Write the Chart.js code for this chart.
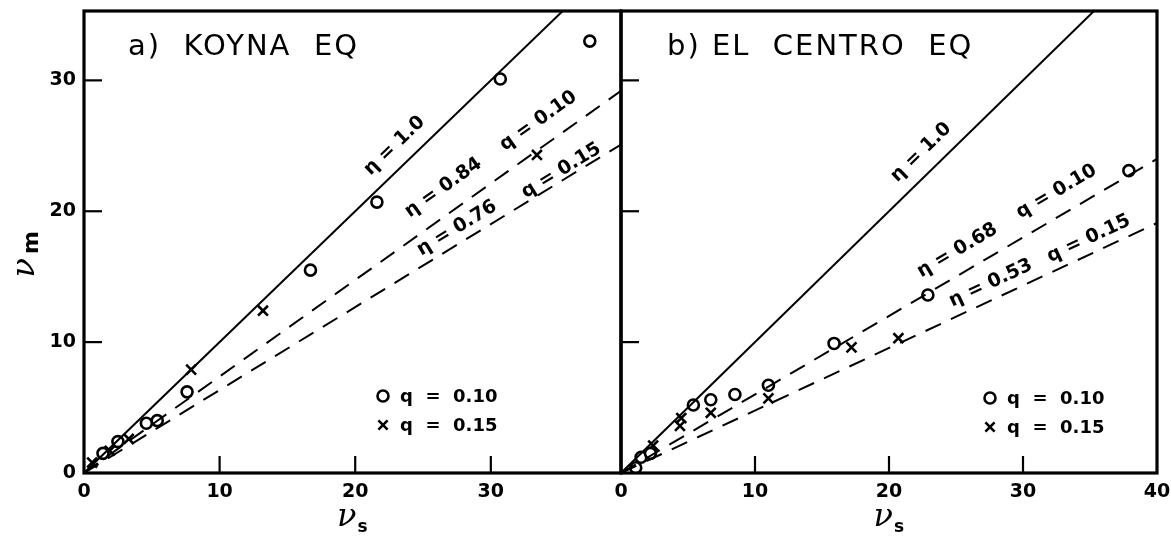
<!DOCTYPE html>
<html>
<head>
<meta charset="utf-8">
<script src="https://cdn.jsdelivr.net/npm/chart.js@4"></script>
<style>
  html, body { margin: 0; padding: 0; background: #fff; }
  #wrap { position: relative; width: 1171px; height: 541px; background: #fff; }
  .panel { position: absolute; top: 0; height: 541px; }
  #panelA { left: 0; width: 640px; }
  #panelB { left: 600px; width: 571px; }
</style>
</head>
<body>
<div id="wrap">
  <div class="panel" id="panelA"><canvas id="koyna"></canvas></div>
  <div class="panel" id="panelB"><canvas id="centro"></canvas></div>
</div>
<script>
"use strict";

// ---- data ----
// a) Koyna EQ
const koynaCircleX = [1.4, 2.5, 4.6, 5.4, 7.6, 16.7, 21.6, 30.7, 37.3];
const koynaCircleY = [1.5, 2.4, 3.8, 4.0, 6.2, 15.5, 20.7, 30.1, 33.0];
const koynaCrossX = [0.6, 1.9, 3.3, 7.9, 13.2, 33.4];
const koynaCrossY = [0.8, 1.7, 2.6, 7.9, 12.4, 24.3];
const koynaLineX = [0, 39.6];
const koynaEta10Y = [0, 39.6];
const koynaEta84Y = [0, 29.2];
const koynaEta76Y = [0, 25.1];

// b) El Centro EQ
const centroCircleX = [1.1, 1.5, 2.2, 5.4, 6.7, 8.5, 11.0, 15.9, 22.9, 37.9];
const centroCircleY = [0.4, 1.2, 1.5, 5.2, 5.6, 6.0, 6.7, 9.9, 13.6, 23.1];
const centroCrossX = [2.4, 4.5, 4.4, 6.7, 11.0, 17.2, 20.7];
const centroCrossY = [2.1, 4.2, 3.6, 4.6, 5.7, 9.6, 10.3];
const centroLineX = [0, 40];
const centroEta10Y = [0, 40];
const centroEta68Y = [0, 24.0];
const centroEta53Y = [0, 19.1];

// ticks
const koynaXTicks = [0, 10, 20, 30];
const centroXTicks = [0, 10, 20, 30, 40];
const yTicks = [0, 10, 20, 30];

const FONT = "'DejaVu Sans', sans-serif";

function pts(xs, ys) {
    return xs.map((v, i) => ({ x: v, y: ys[i] }));
}

function fitLine(xs, ys, dashed) {
    return {
        type: 'line',
        data: pts(xs, ys),
        borderColor: '#000',
        borderWidth: 2,
        borderDash: dashed ? [17, 11] : [],
        pointRadius: 0,
        fill: false,
        tension: 0
    };
}

function circles(xs, ys) {
    return {
        type: 'scatter',
        data: pts(xs, ys),
        pointStyle: 'circle',
        pointRadius: 5.5,
        pointBorderWidth: 2.6,
        pointBorderColor: '#000',
        pointBackgroundColor: '#fff'
    };
}

function crosses(xs, ys) {
    return {
        type: 'scatter',
        data: pts(xs, ys),
        pointStyle: 'crossRot',
        pointRadius: 7,
        pointBorderWidth: 2.6,
        pointBorderColor: '#000'
    };
}

function noPad(s) {
    s.paddingTop = 0; s.paddingBottom = 0;
    s.paddingLeft = 0; s.paddingRight = 0;
}

// frame, inward ticks, titles, line labels, legend
const panelDecor = {
    id: 'panelDecor',
    afterDraw(chart, args, o) {
        const { ctx, chartArea: a, scales: { x, y } } = chart;
        ctx.save();
        ctx.strokeStyle = '#000';
        ctx.fillStyle = '#000';

        // ticks pointing into the plot
        ctx.lineWidth = 2.2;
        o.innerX.forEach(v => {
            const px = x.getPixelForValue(v);
            ctx.beginPath(); ctx.moveTo(px, a.bottom); ctx.lineTo(px, a.bottom - 17); ctx.stroke();
        });
        o.innerY.forEach(v => {
            const py = y.getPixelForValue(v);
            ctx.beginPath(); ctx.moveTo(a.left, py); ctx.lineTo(a.left + 18, py); ctx.stroke();
        });

        // box
        ctx.lineWidth = 3.2;
        ctx.strokeRect(a.left, a.top, a.right - a.left, a.bottom - a.top);

        // panel title
        ctx.font = '29px ' + FONT;
        ctx.letterSpacing = '2px';
        ctx.textBaseline = 'middle';
        ctx.textAlign = 'left';
        ctx.fillText(o.title, a.left + o.titleDx, 47);
        ctx.letterSpacing = '0px';

        // labels along the fit lines
        ctx.font = 'bold 19px ' + FONT;
        ctx.textAlign = 'center';
        o.lineLabels.forEach(l => {
            const line = chart.data.datasets[l.line].data;
            const p0 = line[0], p1 = line[line.length - 1];
            const ang = Math.atan2(y.getPixelForValue(p1.y) - y.getPixelForValue(p0.y),
                                   x.getPixelForValue(p1.x) - x.getPixelForValue(p0.x));
            ctx.save();
            ctx.translate(x.getPixelForValue(l.x), y.getPixelForValue(l.y));
            ctx.rotate(ang);
            ctx.fillText(l.text, 0, 0);
            ctx.restore();
        });

        // legend inside the plot
        ctx.font = 'bold 18px ' + FONT;
        ctx.textAlign = 'left';
        o.legend.forEach((g, i) => {
            const lx = a.left + o.legendX, ly = a.top + o.legendY + i * 29;
            ctx.save();
            ctx.fillStyle = '#fff';
            ctx.lineWidth = 2.6;
            Chart.helpers.drawPoint(ctx, { pointStyle: g.style, radius: g.style === 'circle' ? 5.5 : 6.5, borderWidth: 2.6 }, lx, ly);
            ctx.restore();
            ctx.fillText(g.text, lx + 17, ly + 1);
        });

        // axis titles
        const cx = (a.left + a.right) / 2;
        ctx.font = 'italic 32px "DejaVu Serif", serif';
        ctx.textAlign = 'right';
        ctx.fillText('\u03BD', cx + 4, 518);
        ctx.font = 'bold 17px ' + FONT;
        ctx.textAlign = 'left';
        ctx.fillText('s', cx + 5, 528);
        if (o.yTitle) {
            ctx.save();
            ctx.translate(26, 262);
            ctx.rotate(-Math.PI / 2);
            ctx.font = 'italic 32px "DejaVu Serif", serif';
            ctx.textAlign = 'right';
            ctx.fillText('\u03BD', 4, 0);
            ctx.font = 'bold 22px ' + FONT;
            ctx.textAlign = 'left';
            ctx.fillText('m', 8, 6);
            ctx.restore();
        }
        ctx.restore();
    }
};

function makePanel(id, cfg) {
    return new Chart(document.getElementById(id), {
        data: { datasets: cfg.datasets },
        options: {
            responsive: true,
            maintainAspectRatio: false,
            animation: false,
            events: [],
            layout: { padding: cfg.padding },
            plugins: {
                legend: { display: false },
                tooltip: { enabled: false },
                panelDecor: cfg.decor
            },
            scales: {
                x: {
                    type: 'linear', min: 0, max: cfg.xMax,
                    afterBuildTicks: s => { s.ticks = cfg.xTicks.map(v => ({ value: v })); },
                    afterFit: s => { s.height = 68; noPad(s); },
                    grid: { display: false, drawTicks: false },
                    border: { display: false },
                    ticks: { color: '#000', padding: 8, maxRotation: 0, font: { family: FONT, size: 19, weight: 'bold' } }
                },
                y: {
                    type: 'linear', min: 0, max: 35.3,
                    afterBuildTicks: s => { s.ticks = cfg.yTicks.map(v => ({ value: v })); },
                    afterFit: s => { s.width = cfg.yWidth; noPad(s); },
                    grid: { display: false, drawTicks: false },
                    border: { display: false },
                    ticks: { display: cfg.yLabels, color: '#000', padding: 8, font: { family: FONT, size: 19, weight: 'bold' } }
                }
            }
        },
        plugins: [panelDecor]
    });
}

makePanel('koyna', {
    xMax: 39.6,
    xTicks: koynaXTicks,
    yTicks: yTicks,
    yWidth: 84,
    yLabels: true,
    padding: { top: 11, right: 19, bottom: 0, left: 0 },
    datasets: [
        fitLine(koynaLineX, koynaEta10Y, false),
        fitLine(koynaLineX, koynaEta84Y, true),
        fitLine(koynaLineX, koynaEta76Y, true),
        circles(koynaCircleX, koynaCircleY),
        crosses(koynaCrossX, koynaCrossY)
    ],
    decor: {
        title: 'a)  KOYNA  EQ',
        titleDx: 44,
        yTitle: true,
        innerX: [10, 20, 30],
        innerY: [10, 20, 30],
        legendX: 299, legendY: 385,
        legend: [
            { style: 'circle', text: 'q  =  0.10' },
            { style: 'crossRot', text: 'q  =  0.15' }
        ],
        lineLabels: [
            { line: 0, text: '\u03B7 = 1.0', x: 22.9, y: 25.0 },
            { line: 1, text: '\u03B7 = 0.84', x: 26.5, y: 21.8 },
            { line: 1, text: 'q = 0.10', x: 33.5, y: 26.9 },
            { line: 2, text: '\u03B7 = 0.76', x: 27.5, y: 18.7 },
            { line: 2, text: 'q = 0.15', x: 35.2, y: 23.1 }
        ]
    }
});

makePanel('centro', {
    xMax: 40,
    xTicks: centroXTicks,
    yTicks: [],
    yWidth: 21,
    yLabels: false,
    padding: { top: 11, right: 14, bottom: 0, left: 0 },
    datasets: [
        fitLine(centroLineX, centroEta10Y, false),
        fitLine(centroLineX, centroEta68Y, true),
        fitLine(centroLineX, centroEta53Y, true),
        circles(centroCircleX, centroCircleY),
        crosses(centroCrossX, centroCrossY)
    ],
    decor: {
        title: 'b) EL  CENTRO  EQ',
        titleDx: 46,
        yTitle: false,
        innerX: [10, 20, 30],
        innerY: [10, 20, 30],
        legendX: 369, legendY: 387,
        legend: [
            { style: 'circle', text: 'q  =  0.10' },
            { style: 'crossRot', text: 'q  =  0.15' }
        ],
        lineLabels: [
            { line: 0, text: '\u03B7 = 1.0', x: 22.4, y: 24.5 },
            { line: 1, text: '\u03B7 = 0.68', x: 25.1, y: 17.0 },
            { line: 1, text: 'q = 0.10', x: 32.5, y: 21.5 },
            { line: 2, text: '\u03B7 = 0.53', x: 27.6, y: 14.5 },
            { line: 2, text: 'q = 0.15', x: 34.9, y: 17.9 }
        ]
    }
});
</script>
</body>
</html>
